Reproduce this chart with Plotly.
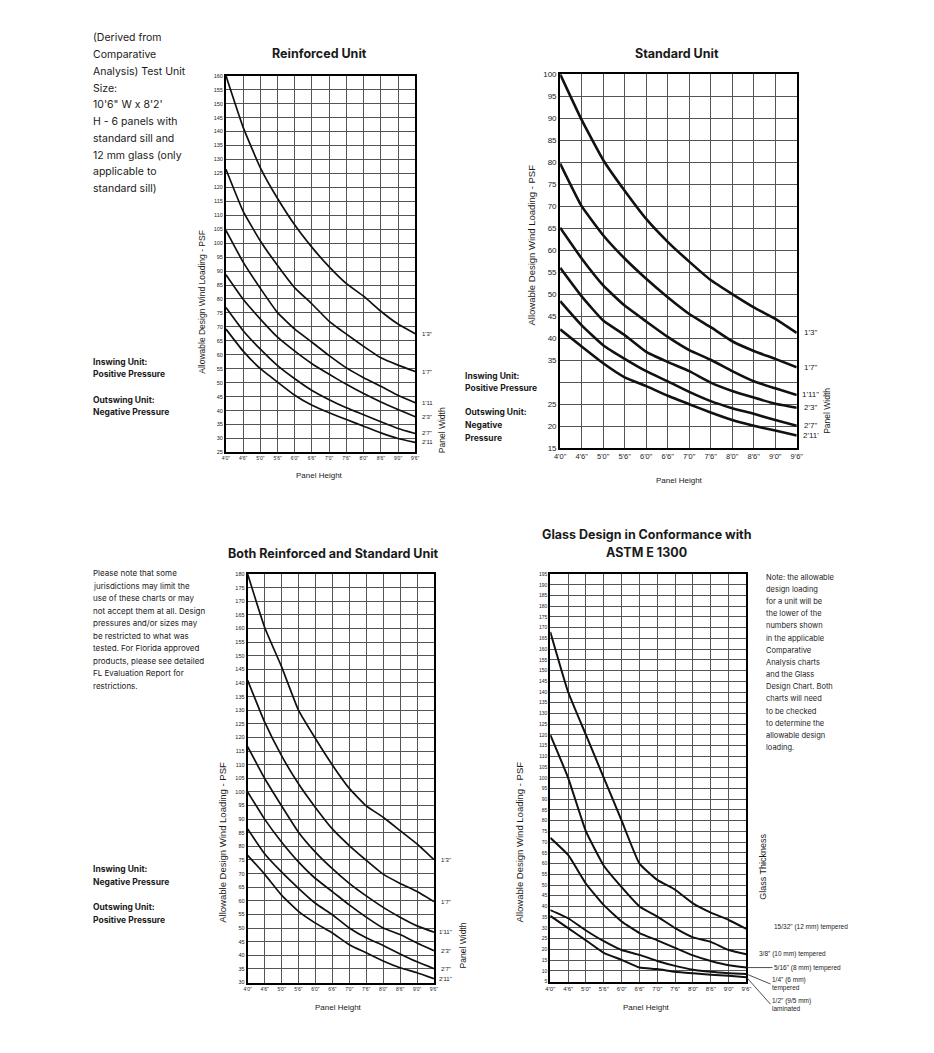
import plotly.graph_objects as go

# ---------------- data ----------------
panel_heights = ["4'0\"", "4'6\"", "5'0\"", "5'6\"", "6'0\"", "6'6\"",
                 "7'0\"", "7'6\"", "8'0\"", "8'6\"", "9'0\"", "9'6\""]
panel_widths_tl = ["1'3\"", "1'7\"", "1'11", "2'3\"", "2'7\"", "2'11"]
panel_widths_tr = ["1'3\"", "1'7\"", "1'11\"", "2'3\"", "2'7\"", "2'11'"]
panel_widths_bl = ["1'3\"", "1'7\"", "1'11\"", "2'3\"", "2'7\"", "2'11\""]

reinforced_1_3 = [160, 141.5, 127, 116, 106.5, 98.5, 91.5, 85.5, 81, 75.6, 71, 67.5]
reinforced_1_7 = [126.5, 111.4, 100.8, 92, 84, 78.2, 72, 67.4, 63, 58.9, 56.3, 54]
reinforced_1_11 = [104.6, 93.2, 83.8, 75.1, 69.2, 64.5, 59.7, 55.3, 51.8, 48.7, 45.5, 42.8]
reinforced_2_3 = [88.7, 79.9, 72.8, 66.3, 61.3, 56.8, 53, 49.4, 46.1, 43.1, 40.4, 37.8]
reinforced_2_7 = [76.9, 68.6, 62, 56.1, 51.4, 47.2, 43.9, 41, 38.5, 36, 33.6, 31.8]
reinforced_2_11 = [69.2, 61.3, 55, 50.2, 45.5, 41.9, 39.2, 36.8, 34.4, 32, 30, 28.6]

standard_1_3 = [100, 89.6, 80.5, 73.5, 67.1, 61.9, 57.4, 53.2, 50, 47, 44.4, 41.2]
standard_1_7 = [79.7, 70, 63.4, 58.1, 53.5, 49.3, 45.5, 42.5, 39.3, 37.1, 35.3, 33.4]
standard_1_11 = [65.1, 58.1, 52, 47.4, 43.8, 40.3, 37.3, 35.1, 32.5, 30.2, 28.6, 27.1]
standard_2_3 = [56, 49.5, 44, 40.7, 36.9, 34.6, 32.5, 29.9, 28, 26.5, 25.1, 24.2]
standard_2_7 = [48.4, 42.9, 38.4, 35.3, 32.5, 30.2, 27.8, 25.7, 24.1, 22.8, 21.4, 20.1]
standard_2_11 = [42, 38.1, 34.3, 31.1, 29.1, 26.9, 25, 23.1, 21.4, 20.1, 19, 17.9]

both_1_3 = [180, 160.5, 146, 130, 119.6, 109.9, 101.3, 94.9, 90.7, 85.8, 80.9, 75.1]
both_1_7 = [141, 125.7, 113.3, 103, 94.3, 86.4, 80.3, 74.9, 69.8, 66.4, 63.4, 59.7]
both_1_11 = [116.6, 105, 94.9, 85.2, 77.9, 71.8, 66.4, 61.8, 57.6, 54, 50.8, 48.5]
both_2_3 = [100, 90, 81.6, 74.3, 68.2, 63.4, 58.5, 54, 50, 47.6, 44.5, 41.7]
both_2_7 = [86.4, 77.3, 70.6, 64.6, 59.1, 54.9, 50, 46.4, 43.6, 40.5, 37.6, 35.1]
both_2_11 = [76.7, 69.8, 62.1, 56.1, 51.8, 48.2, 43.9, 40.9, 37.9, 35.4, 33.6, 31.4]

glass_thickness = ["15/32\" (12 mm) tempered", "3/8\" (10 mm) tempered",
                   "5/16\" (8 mm) tempered", "1/4\" (6 mm)<br>tempered",
                   "1/2\" (9/5 mm)<br>laminated"]
glass_15_32 = [168, 140, 120, 100, 80, 60, 52.4, 47.8, 41.4, 37.1, 33.7, 29.5]
glass_3_8 = [120, 100, 75, 59, 49, 40, 35.3, 29.9, 25.6, 23.5, 19.7, 17.7]
glass_5_16 = [72, 64, 50.6, 40.6, 33, 27.6, 24.2, 20.7, 17.2, 14.6, 12.6, 11.5]
glass_1_4 = [38.3, 34.5, 28.8, 23.8, 19.7, 17.4, 14.6, 12.3, 10.5, 9.5, 8.9, 8.5]
glass_1_2 = [35.6, 29.9, 24.2, 18.4, 15.1, 11.5, 10.8, 9.5, 8.8, 8.2, 7.7, 7]

reinforced = [reinforced_1_3, reinforced_1_7, reinforced_1_11, reinforced_2_3, reinforced_2_7, reinforced_2_11]
standard = [standard_1_3, standard_1_7, standard_1_11, standard_2_3, standard_2_7, standard_2_11]
both = [both_1_3, both_1_7, both_1_11, both_2_3, both_2_7, both_2_11]
glass = [glass_15_32, glass_3_8, glass_5_16, glass_1_4, glass_1_2]

# ---------------- layout helpers ----------------
PAGE_W, PAGE_H = 934, 1053
BODY = 8  # default page margin around the figure div
W, H = PAGE_W - 2 * BODY, PAGE_H - 2 * BODY
def px(x): return (x - BODY) / W
def py(y): return 1 - (y - BODY) / H

TXT = "Inter"
AX = "Liberation Sans"
x_idx = list(range(len(panel_heights)))

fig = go.Figure()
layout = dict(width=W, height=H, margin=dict(l=0, r=0, t=0, b=0),
              paper_bgcolor="white", plot_bgcolor="white", showlegend=False)
annotations = []

def add_text(x, y, text, size=9, bold=False, xanchor="left", family=TXT, angle=0, yanchor="middle"):
    annotations.append(dict(x=px(x), y=py(y), xref="paper", yref="paper", text=("<b>%s</b>" % text) if bold else text,
                            showarrow=False, xanchor=xanchor, yanchor=yanchor, textangle=angle,
                            font=dict(family=family, size=size, color="#1a1a1a")))

def block(x, y0, dy, lines, size, bold=False):
    for i, t in enumerate(lines):
        add_text(x, y0 + i * dy, t, size=size, bold=bold)

panels = [
    dict(k="", box=(223, 415, 72.3, 452.3), yr=(25, 160), series=reinforced, lw=1.7,
         yt=list(range(25, 161, 5)), hide=[], tickfs=5.5, xfs=5, lab=panel_widths_tl,
         labx=427, labfs=6),
    dict(k="2", box=(562, 802, 70.7, 448), yr=(15, 100), series=standard, lw=2.6,
         yt=list(range(15, 101, 5)), hide=[30], tickfs=8, xfs=7.5, lab=panel_widths_tr,
         labx=816, labfs=8),
    dict(k="3", box=(245, 434, 575, 987), yr=(30, 180), series=both, lw=1.7,
         yt=list(range(30, 181, 5)), hide=[], tickfs=5.5, xfs=5, lab=panel_widths_bl,
         labx=446, labfs=6),
    dict(k="4", box=(552, 751, 575, 986), yr=(5, 195), series=glass, lw=2.0,
         yt=list(range(5, 196, 5)), hide=[], tickfs=5, xfs=6, lab=None,
         labx=None, labfs=6.5),
]

for p in panels:
    x0, x1, yt0, yb = p["box"]
    xa = "xaxis" + p["k"]
    ya = "yaxis" + p["k"]
    layout[xa] = dict(domain=[px(x0), px(x1)], range=[0, 11], anchor="y" + p["k"],
                      tickvals=x_idx, ticktext=panel_heights, showgrid=True,
                      gridcolor="#555", gridwidth=0.8, zeroline=False,
                      showline=True, mirror=True, linecolor="black", linewidth=2,
                      ticks="", tickfont=dict(family=AX, size=p["xfs"], color="#222"))
    layout[ya] = dict(domain=[py(yb), py(yt0)], range=list(p["yr"]), anchor="x" + p["k"],
                      tickvals=p["yt"], ticktext=["" if v in p["hide"] else str(v) for v in p["yt"]],
                      showgrid=True, gridcolor="#555", gridwidth=0.8, zeroline=False,
                      showline=True, mirror=True, linecolor="black", linewidth=2,
                      ticks="", tickfont=dict(family=AX, size=p["tickfs"], color="#222"))
    for s in p["series"]:
        fig.add_trace(go.Scatter(x=x_idx, y=s, mode="lines", xaxis="x" + p["k"], yaxis="y" + p["k"],
                                 line=dict(color="#111", width=p["lw"], shape="spline", smoothing=0.4),
                                 hoverinfo="skip"))
    if p["lab"]:
        for name, s in zip(p["lab"], p["series"]):
            annotations.append(dict(x=px(p["labx"]), xref="paper", y=s[-1], yref="y" + p["k"],
                                    text=name, showarrow=False, xanchor="center",
                                    font=dict(family=AX, size=p["labfs"], color="#222")))

# glass labels
g_off = [(26, -2), (11, 0), (26, 0), (24, 10), (24, 27)]
for i, (name, s) in enumerate(zip(glass_thickness, glass)):
    dx, dy = g_off[i]
    if i < 2:
        annotations.append(dict(x=11, y=s[-1], xref="x4", yref="y4", text=name, showarrow=False,
                                xanchor="left", xshift=dx, yshift=-dy,
                                font=dict(family=AX, size=6.5, color="#222")))
    else:
        annotations.append(dict(x=11, y=s[-1], xref="x4", yref="y4", text=name, showarrow=True,
                                arrowhead=0, arrowwidth=0.8, arrowcolor="#222",
                                ax=dx, ay=dy, xanchor="left", align="left",
                                font=dict(family=AX, size=6.5, color="#222")))

# titles
add_text(318, 50, "Reinforced Unit", size=12.5, bold=True, xanchor="center")
add_text(681, 50, "Standard Unit", size=12.5, bold=True, xanchor="center")
add_text(332, 554, "Both Reinforced and Standard Unit", size=12.5, bold=True, xanchor="center")
add_text(650, 535, "Glass Design in Conformance with", size=12.5, bold=True, xanchor="center")
add_text(650, 553, "ASTM E 1300", size=12.5, bold=True, xanchor="center")

# axis titles
ytitle = "Allowable Design Wind Loading - PSF"
add_text(199, 300, ytitle, size=8.5, xanchor="center", family=AX, angle=-90)
add_text(533, 243, ytitle, size=9.5, xanchor="center", family=AX, angle=-90)
add_text(220, 845, ytitle, size=9.5, xanchor="center", family=AX, angle=-90)
add_text(521, 845, ytitle, size=9.5, xanchor="center", family=AX, angle=-90)
add_text(442, 430, "Panel Width", size=8.5, xanchor="center", family=AX, angle=-90)
add_text(832, 410, "Panel Width", size=8.5, xanchor="center", family=AX, angle=-90)
add_text(463, 950, "Panel Width", size=8.5, xanchor="center", family=AX, angle=-90)
add_text(767, 870, "Glass Thickness", size=9, xanchor="center", family=AX, angle=-90)
add_text(318, 476, "Panel Height", size=8, xanchor="center", family=AX)
add_text(683, 481, "Panel Height", size=8, xanchor="center", family=AX)
add_text(337, 1012, "Panel Height", size=8, xanchor="center", family=AX)
add_text(650, 1012, "Panel Height", size=8, xanchor="center", family=AX)

# side texts
block(86, 34, 16.9, ["(Derived from", "Comparative", "Analysis) Test Unit", "Size:",
                     "10'6\" W x 8'2'", "H - 6 panels with", "standard sill and",
                     "12 mm glass (only", "applicable to", "standard sill)"], size=10.5)
block(86, 361, 12.3, ["Inswing Unit:", "Positive Pressure"], size=8.5, bold=True)
block(86, 399, 12.3, ["Outswing Unit:", "Negative Pressure"], size=8.5, bold=True)
block(463, 375, 12.3, ["Inswing Unit:", "Positive Pressure"], size=8.5, bold=True)
block(463, 412, 12.8, ["Outswing Unit:", "Negative", "Pressure"], size=8.5, bold=True)
block(86, 574, 12.6, ["Please note that some", "jurisdictions may limit the",
                      "use of these charts or may", "not accept them at all. Design",
                      "pressures and/or sizes may", "be restricted to what was",
                      "tested. For Florida approved", "products, please see detailed",
                      "FL Evaluation Report for", "restrictions."], size=8)
block(86, 873, 12.3, ["Inswing Unit:", "Negative Pressure"], size=8.5, bold=True)
block(86, 911, 12.8, ["Outswing Unit:", "Positive Pressure"], size=8.5, bold=True)
block(769, 578, 12.3, ["Note: the allowable", "design loading", "for a unit will be",
                       "the lower of the", "numbers shown", "in the applicable",
                       "Comparative", "Analysis charts", "and the Glass",
                       "Design Chart. Both", "charts will need", "to be checked",
                       "to determine the", "allowable design", "loading."], size=7.5)

layout["annotations"] = annotations
fig.update_layout(**layout)
fig.write_html("out.html")
